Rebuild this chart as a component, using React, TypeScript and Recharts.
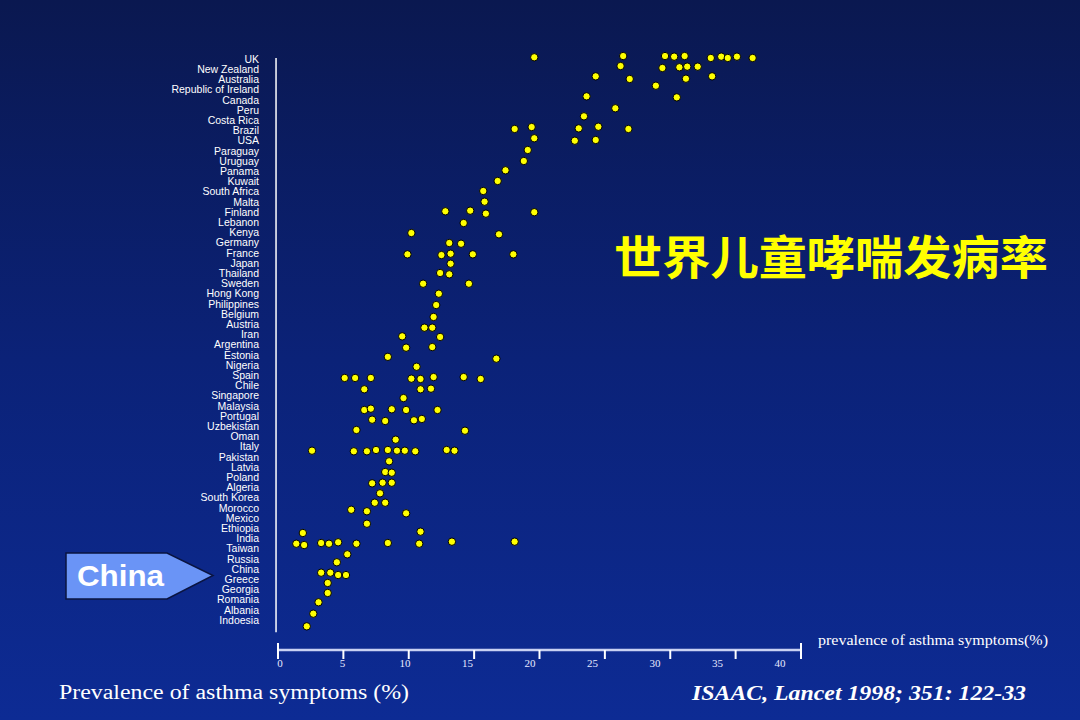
import React from 'react';
import { ScatterChart, Scatter, XAxis, YAxis, ReferenceLine } from 'recharts';

const countries = [
  'UK', 'New Zealand', 'Australia', 'Republic of Ireland', 'Canada', 'Peru', 'Costa Rica', 'Brazil',
  'USA', 'Paraguay', 'Uruguay', 'Panama', 'Kuwait', 'South Africa', 'Malta', 'Finland', 'Lebanon',
  'Kenya', 'Germany', 'France', 'Japan', 'Thailand', 'Sweden', 'Hong Kong', 'Philippines', 'Belgium',
  'Austria', 'Iran', 'Argentina', 'Estonia', 'Nigeria', 'Spain', 'Chile', 'Singapore', 'Malaysia',
  'Portugal', 'Uzbekistan', 'Oman', 'Italy', 'Pakistan', 'Latvia', 'Poland', 'Algeria', 'South Korea',
  'Morocco', 'Mexico', 'Ethiopia', 'India', 'Taiwan', 'Russia', 'China', 'Greece', 'Georgia',
  'Romania', 'Albania', 'Indoesia',
];

const xTicks = [0, 5, 10, 15, 20, 25, 30, 35, 40];

// [row position (0 = UK ... 55 = Indoesia), prevalence %]
const dots: [number, number][] = [
  [-0.17, 19.6], [-0.29, 26.4], [-0.29, 29.6], [-0.23, 30.3], [-0.29, 31.1], [-0.1, 33.1],
  [-0.23, 33.9], [-0.1, 34.4], [-0.23, 35.1], [-0.1, 36.3],
  [0.69, 26.2], [0.88, 29.4], [0.81, 30.7], [0.75, 31.3], [0.75, 32.1],
  [1.7, 24.3], [1.96, 26.9], [1.93, 31.2], [1.7, 33.2],
  [2.62, 28.9],
  [3.66, 23.6], [3.76, 30.5],
  [4.83, 25.8],
  [5.62, 23.4],
  [6.86, 18.1], [6.67, 19.4], [6.8, 23.0], [6.64, 24.5], [6.86, 26.8],
  [7.77, 19.6], [8.01, 22.7], [7.94, 24.3],
  [8.92, 19.1],
  [10.0, 18.8],
  [10.91, 17.4],
  [11.96, 16.8],
  [12.94, 15.7],
  [13.99, 15.8],
  [14.93, 12.8], [14.87, 14.7], [15.16, 15.9], [15.02, 19.6],
  [16.08, 14.2],
  [17.06, 10.2], [17.19, 16.9],
  [18.04, 13.1], [18.11, 14.0],
  [19.15, 9.9], [19.22, 12.5], [19.09, 13.2], [19.15, 14.9], [19.15, 18.0],
  [20.07, 13.2],
  [20.98, 12.4], [21.11, 13.1],
  [22.03, 11.1], [22.03, 14.6],
  [23.01, 12.3],
  [24.12, 12.1],
  [25.29, 11.9],
  [26.34, 11.2], [26.34, 11.8],
  [27.19, 9.5], [27.25, 12.4],
  [28.3, 9.8], [28.24, 11.8],
  [29.2, 8.4], [29.38, 16.7],
  [30.17, 10.6],
  [31.27, 5.1], [31.27, 5.9], [31.27, 7.1], [31.34, 10.2], [31.37, 10.9], [31.18, 11.9], [31.18, 14.2], [31.37, 15.5],
  [32.38, 6.6], [32.38, 10.9], [32.32, 11.7],
  [33.24, 9.6],
  [34.41, 6.6], [34.28, 7.1], [34.34, 8.7], [34.41, 9.8], [34.41, 12.2],
  [35.36, 7.2], [35.49, 8.2], [35.42, 10.4], [35.29, 11.0],
  [36.37, 6.0], [36.44, 14.3],
  [37.32, 9.0],
  [38.4, 2.6], [38.46, 5.8], [38.46, 6.8], [38.33, 7.5], [38.33, 8.4], [38.4, 9.1], [38.4, 9.7], [38.46, 10.5], [38.33, 12.9], [38.4, 13.5],
  [39.44, 8.5],
  [40.49, 8.2], [40.56, 8.7],
  [41.6, 7.2], [41.54, 8.0], [41.54, 8.7],
  [42.58, 7.8],
  [43.5, 7.4], [43.5, 8.2],
  [44.19, 5.6], [44.34, 6.8], [44.54, 9.8],
  [45.56, 6.8],
  [46.47, 1.9], [46.34, 10.9],
  [47.52, 1.4], [47.65, 2.0], [47.45, 3.3], [47.52, 3.9], [47.38, 4.6], [47.52, 6.0], [47.45, 8.4], [47.52, 10.8], [47.32, 13.3], [47.32, 18.1],
  [48.56, 5.3],
  [49.34, 4.5],
  [50.36, 3.3], [50.36, 4.0], [50.59, 4.6], [50.59, 5.2],
  [51.37, 3.8],
  [52.35, 3.8],
  [53.26, 3.1],
  [54.38, 2.7],
  [55.62, 2.2],
];

const data = dots.map(([row, value]) => ({ row, value }));

const XTick = (props: any) => {
  const { x, y, payload } = props;
  const v = payload.value as number;
  const isEnd = v === 0 || v === 40;
  return (
    <g>
      <line x1={x} x2={x} y1={isEnd ? y - 7 : y} y2={y + 9} stroke="#ffffff" strokeWidth={2} />
      <text
        x={x + 2 - 0.575 * v}
        y={y + 17}
        textAnchor="middle"
        fill="#e6e9ff"
        fontSize={11}
        fontFamily="'Liberation Serif', 'Times New Roman', serif"
      >
        {v}
      </text>
    </g>
  );
};

const Dot = (props: any) => {
  const { cx, cy } = props;
  if (cx == null || cy == null) return null;
  return <circle cx={cx} cy={cy} r={3.7} fill="#ffff00" stroke="#000000" strokeWidth={1} />;
};

export default function App() {
  return (
    <div
      style={{
        position: 'absolute',
        left: 0,
        top: 0,
        width: 1080,
        height: 720,
        background: 'linear-gradient(to bottom, #0a1850 0%, #0b2278 50%, #0d2b94 100%)',
        overflow: 'hidden',
      }}
    >
      <ScatterChart width={1080} height={720} margin={{ top: 50, right: 279, bottom: 40, left: 0 }}>
        <XAxis
          type="number"
          dataKey="value"
          domain={[0, 40]}
          ticks={xTicks}
          interval={0}
          axisLine={{ stroke: '#c9d1f3', strokeWidth: 2.5 }}
          tickLine={false}
          tickSize={0}
          tickMargin={0}
          height={30}
          tick={<XTick />}
        />
        <YAxis
          type="number"
          dataKey="row"
          domain={[-0.882, 57.94]}
          reversed
          ticks={countries.map((_, i) => i)}
          tickFormatter={(i: number) => countries[i] ?? ''}
          interval={0}
          axisLine={false}
          tickLine={false}
          tickSize={0}
          tickMargin={19}
          width={278}
          tick={{ fill: '#ffffff', fontSize: 10.5, fontFamily: "'Liberation Sans', Arial, sans-serif" }}
        />
        <ReferenceLine
          segment={[{ x: -0.15, y: -0.1 }, { x: -0.15, y: 56.2 }]}
          ifOverflow="visible"
          stroke="#ffffff"
          strokeWidth={1.5}
        />
        <Scatter data={data} shape={<Dot />} isAnimationActive={false} />
      </ScatterChart>
      <svg
        width={1080}
        height={720}
        style={{ position: 'absolute', left: 0, top: 0, pointerEvents: 'none' }}
      >
        <text
          x={614}
          y={274}
          fill="#ffff00"
          fontSize={46}
          fontWeight="bold"
          fontFamily="'Noto Sans CJK SC', sans-serif"
          textLength={434}
          lengthAdjust="spacingAndGlyphs"
        >
          世界儿童哮喘发病率
        </text>
        <polygon
          points="66,553 167,553 213,575.5 167,599 66,599"
          fill="#6a94f6"
          stroke="#0a1440"
          strokeWidth={1.5}
        />
        <text
          x={77}
          y={586}
          fill="#ffffff"
          fontSize={30}
          fontWeight="bold"
          fontFamily="'Liberation Sans', Arial, sans-serif"
          textLength={87}
          lengthAdjust="spacingAndGlyphs"
        >
          China
        </text>
        <text
          x={818}
          y={645}
          fill="#ffffff"
          fontSize={15}
          fontFamily="'Liberation Serif', 'Times New Roman', serif"
          textLength={230}
          lengthAdjust="spacingAndGlyphs"
        >
          prevalence of asthma symptoms(%)
        </text>
        <text
          x={59}
          y={699}
          fill="#ffffff"
          fontSize={20}
          fontFamily="'Liberation Serif', 'Times New Roman', serif"
          textLength={350}
          lengthAdjust="spacingAndGlyphs"
        >
          Prevalence of asthma symptoms (%)
        </text>
        <text
          x={692}
          y={700}
          fill="#ffffff"
          fontSize={20}
          fontWeight="bold"
          fontStyle="italic"
          fontFamily="'Liberation Serif', 'Times New Roman', serif"
          textLength={334}
          lengthAdjust="spacingAndGlyphs"
        >
          ISAAC, Lancet 1998; 351: 122-33
        </text>
      </svg>
    </div>
  );
}
